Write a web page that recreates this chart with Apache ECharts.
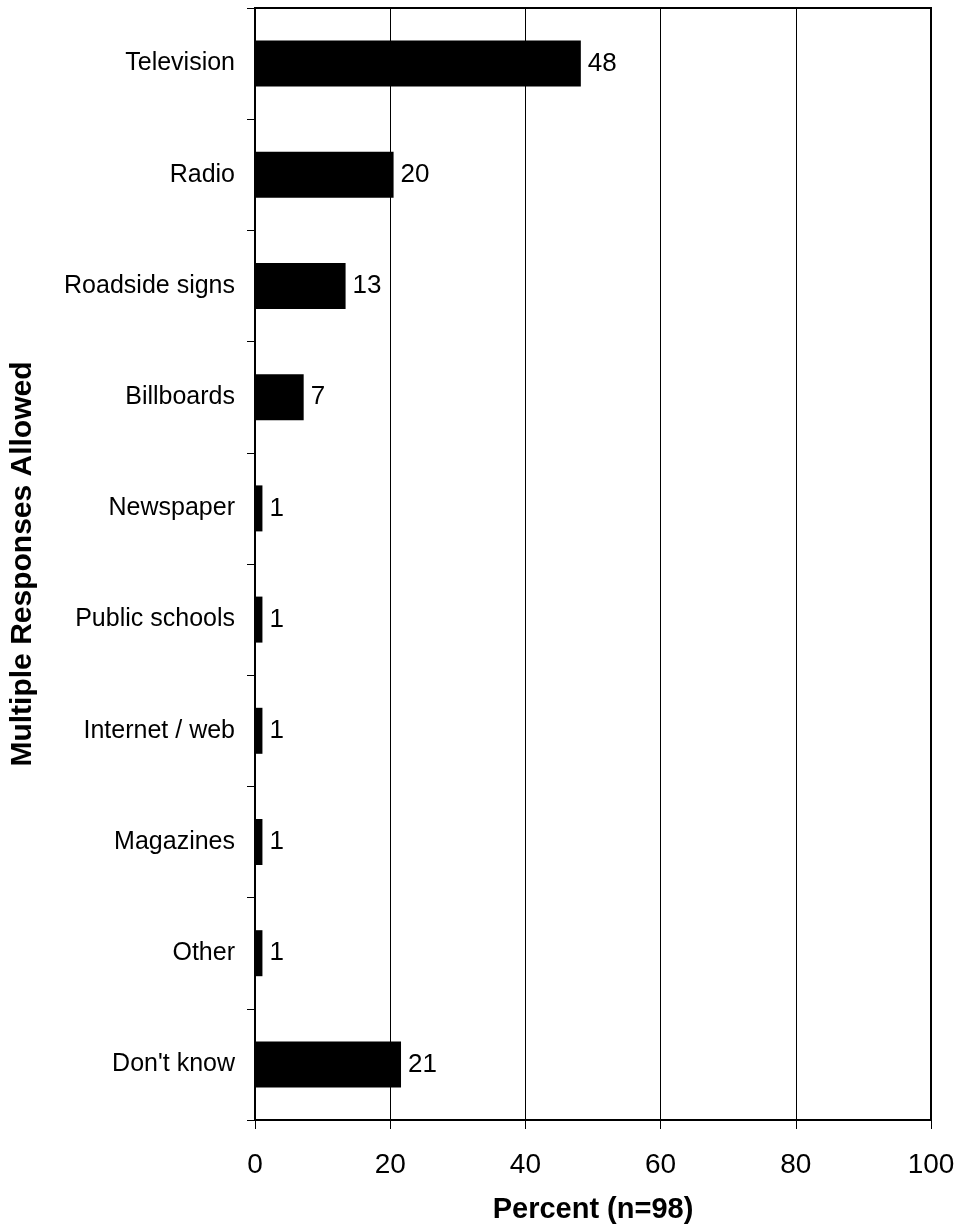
<!DOCTYPE html>
<html><head><meta charset="utf-8">
<script src="https://cdn.jsdelivr.net/npm/echarts@6/dist/echarts.min.js"></script>
<style>html,body{margin:0;padding:0;background:#fff}#c{width:960px;height:1229px}</style>
</head><body><div id="c"></div>
<script>
const categories = ["Television","Radio","Roadside signs","Billboards","Newspaper","Public schools","Internet / web","Magazines","Other","Don't know"];
const values = [48.2, 20.5, 13.4, 7.2, 1.1, 1.1, 1.1, 1.1, 1.1, 21.6];
const labels = [48, 20, 13, 7, 1, 1, 1, 1, 1, 21];
const xTicks = [0, 20, 40, 60, 80, 100];

const chart = echarts.init(document.getElementById('c'), null, {renderer:'canvas'});
chart.setOption({
  animation:false,
  textStyle:{fontFamily:'Liberation Sans, Arial, sans-serif'},
  grid:{left:254, right:29, top:8, bottom:108, show:true, borderColor:'#000', borderWidth:2, containLabel:false},
  xAxis:{
    type:'value', min:xTicks[0], max:xTicks[xTicks.length-1], interval:20,
    axisLine:{show:true, lineStyle:{color:'#000', width:2}},
    axisTick:{show:true, length:9, lineStyle:{color:'#000', width:1}},
    splitLine:{show:true, lineStyle:{color:'#000', width:1}},
    axisLabel:{color:'#000', fontSize:28, margin:31, fontFamily:'Liberation Sans'},
    name:'Percent (n=98)', nameLocation:'middle', nameGap:75, nameMoveOverlap:false,
    nameTextStyle:{color:'#000', fontSize:29, fontWeight:'bold', fontFamily:'Liberation Sans'}
  },
  yAxis:{
    type:'category', data:categories, inverse:true,
    axisLine:{show:true, lineStyle:{color:'#000', width:2}},
    axisTick:{show:true, length:8, lineStyle:{color:'#000', width:1}},
    axisLabel:{color:'#000', fontSize:25, margin:20, fontFamily:'Liberation Sans'},
    name:'Multiple Responses Allowed', nameLocation:'middle', nameGap:217, nameMoveOverlap:false,
    nameTextStyle:{color:'#000', fontSize:30, fontWeight:'bold', fontFamily:'Liberation Sans'}
  },
  series:[{
    type:'bar', data:values, barWidth:46,
    itemStyle:{color:'#000'},
    label:{show:true, position:'right', distance:7, color:'#000', fontSize:26, fontFamily:'Liberation Sans',
      formatter:p=>String(labels[p.dataIndex])}
  }]
});
</script></body></html>
